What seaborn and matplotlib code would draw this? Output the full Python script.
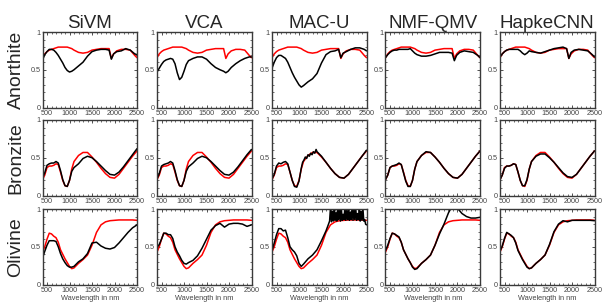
import matplotlib
matplotlib.use("Agg")
import matplotlib.pyplot as plt
import seaborn as sns
from matplotlib.ticker import MultipleLocator, FixedLocator

# column / row names
methods = ["SiVM", "VCA", "MAC-U", "NMF-QMV", "HapkeCNN"]
minerals = ["Anorthite", "Bronzite", "Olivine"]

# ---- Anorthite (red = reference, black = estimate) ----
wl_anor = [400, 450, 500, 550, 600, 650, 700, 750, 800, 850, 900, 950, 1000, 1050, 1100, 1200,
           1300, 1400, 1500, 1600, 1700, 1800, 1880, 1930, 1980, 2050, 2150, 2250, 2350, 2450, 2500]
anor_true = [0.66, 0.71, 0.74, 0.76, 0.77, 0.78, 0.79, 0.80, 0.80, 0.80, 0.80, 0.80, 0.79, 0.78, 0.76, 0.73,
             0.72, 0.73, 0.76, 0.77, 0.78, 0.78, 0.78, 0.65, 0.71, 0.75, 0.77, 0.77, 0.76, 0.69, 0.66]
anor_sivm = [0.63, 0.70, 0.74, 0.77, 0.77, 0.76, 0.73, 0.69, 0.64, 0.59, 0.53, 0.49, 0.47, 0.48, 0.50, 0.55,
             0.60, 0.68, 0.74, 0.76, 0.77, 0.77, 0.76, 0.64, 0.71, 0.74, 0.75, 0.78, 0.76, 0.71, 0.70]
anor_vca = [0.47, 0.52, 0.57, 0.61, 0.63, 0.64, 0.65, 0.64, 0.58, 0.46, 0.37, 0.40, 0.48, 0.57, 0.62, 0.65,
            0.67, 0.67, 0.64, 0.58, 0.53, 0.50, 0.48, 0.46, 0.48, 0.53, 0.58, 0.62, 0.65, 0.67, 0.67]
anor_macu = [0.52, 0.60, 0.66, 0.69, 0.69, 0.67, 0.65, 0.60, 0.53, 0.46, 0.40, 0.35, 0.30, 0.27, 0.29, 0.34,
             0.38, 0.45, 0.59, 0.70, 0.74, 0.75, 0.77, 0.66, 0.72, 0.74, 0.77, 0.79, 0.79, 0.77, 0.75]
anor_nmf = [0.66, 0.70, 0.73, 0.75, 0.76, 0.76, 0.77, 0.77, 0.77, 0.77, 0.77, 0.78, 0.75, 0.72, 0.70, 0.68,
            0.68, 0.69, 0.71, 0.73, 0.73, 0.73, 0.72, 0.62, 0.69, 0.73, 0.75, 0.74, 0.73, 0.69, 0.66]
anor_hapke = [0.67, 0.71, 0.74, 0.76, 0.77, 0.77, 0.77, 0.77, 0.77, 0.75, 0.72, 0.70, 0.72, 0.75, 0.74, 0.73,
              0.72, 0.74, 0.76, 0.78, 0.79, 0.80, 0.78, 0.65, 0.73, 0.76, 0.77, 0.76, 0.75, 0.70, 0.67]

# ---- Bronzite ----
wl_bron = [400, 450, 500, 550, 600, 650, 700, 750, 800, 850, 900, 950, 1000, 1050, 1100, 1200,
           1300, 1400, 1500, 1600, 1700, 1800, 1900, 2000, 2100, 2200, 2300, 2400, 2500]
bron_true = [0.21, 0.27, 0.37, 0.39, 0.39, 0.40, 0.42, 0.41, 0.31, 0.20, 0.13, 0.12, 0.20, 0.35, 0.45, 0.53,
             0.57, 0.57, 0.51, 0.44, 0.36, 0.29, 0.24, 0.23, 0.28, 0.36, 0.44, 0.52, 0.59]
bron_sivm = [0.23, 0.30, 0.40, 0.42, 0.43, 0.43, 0.45, 0.43, 0.33, 0.21, 0.13, 0.12, 0.20, 0.32, 0.37, 0.42,
             0.49, 0.52, 0.50, 0.45, 0.39, 0.33, 0.28, 0.27, 0.31, 0.38, 0.46, 0.54, 0.62]
bron_vca = [0.22, 0.29, 0.39, 0.41, 0.42, 0.43, 0.45, 0.43, 0.33, 0.21, 0.13, 0.12, 0.20, 0.32, 0.38, 0.43,
            0.49, 0.52, 0.50, 0.45, 0.39, 0.33, 0.28, 0.27, 0.31, 0.38, 0.46, 0.54, 0.61]
# MAC-U bronzite is a bit noisy between 1050 and 1400 nm
wl_bron_macu = [400, 450, 500, 550, 600, 650, 700, 750, 800, 850, 900, 950, 1000, 1050, 1080, 1110,
                1140, 1170, 1200, 1230, 1260, 1290, 1320, 1350, 1380, 1400, 1500, 1600, 1700, 1800,
                1900, 2000, 2100, 2200, 2300, 2400, 2500]
bron_macu = [0.22, 0.28, 0.39, 0.43, 0.42, 0.44, 0.45, 0.42, 0.31, 0.20, 0.12, 0.11, 0.19, 0.36, 0.44, 0.47,
             0.51, 0.49, 0.54, 0.52, 0.56, 0.54, 0.58, 0.56, 0.61, 0.58, 0.52, 0.44, 0.36, 0.29,
             0.24, 0.23, 0.28, 0.36, 0.44, 0.52, 0.60]
bron_nmf = [0.21, 0.27, 0.37, 0.39, 0.40, 0.41, 0.43, 0.41, 0.30, 0.19, 0.12, 0.12, 0.20, 0.35, 0.45, 0.53,
            0.58, 0.57, 0.51, 0.44, 0.36, 0.29, 0.24, 0.23, 0.28, 0.36, 0.44, 0.52, 0.59]
bron_hapke = [0.21, 0.27, 0.36, 0.39, 0.39, 0.40, 0.42, 0.41, 0.31, 0.20, 0.13, 0.13, 0.21, 0.35, 0.45, 0.52,
              0.55, 0.55, 0.50, 0.44, 0.37, 0.30, 0.25, 0.24, 0.28, 0.36, 0.44, 0.52, 0.59]

# ---- Olivine ----
wl_oliv = wl_bron
oliv_true = [0.43, 0.50, 0.60, 0.68, 0.67, 0.64, 0.62, 0.56, 0.46, 0.40, 0.34, 0.29, 0.24, 0.21, 0.22, 0.28,
             0.33, 0.39, 0.52, 0.69, 0.79, 0.83, 0.845, 0.85, 0.855, 0.855, 0.855, 0.855, 0.85]
oliv_sivm = [0.35, 0.44, 0.52, 0.58, 0.58, 0.58, 0.57, 0.50, 0.41, 0.34, 0.29, 0.25, 0.23, 0.23, 0.24, 0.30,
             0.34, 0.41, 0.55, 0.56, 0.51, 0.48, 0.47, 0.49, 0.55, 0.62, 0.69, 0.75, 0.79]
oliv_vca = [0.49, 0.53, 0.60, 0.68, 0.68, 0.66, 0.66, 0.61, 0.50, 0.43, 0.38, 0.32, 0.28, 0.27, 0.29, 0.32,
            0.38, 0.48, 0.60, 0.72, 0.78, 0.81, 0.76, 0.80, 0.81, 0.81, 0.80, 0.77, 0.79]
# MAC-U olivine is noisy past 1650 nm, so it has its own finer wavelength list
wl_oliv_macu = [400, 450, 500, 550, 600, 650, 700, 750, 800, 850, 900, 950, 1000, 1050, 1100, 1200,
                1300, 1400, 1500, 1600, 1650, 1680, 1700, 1720, 1740, 1760, 1780, 1800, 1820, 1840,
                1860, 1880, 1900, 1920, 1940, 1960, 1980, 2000, 2020, 2040, 2060, 2080, 2100, 2120,
                2140, 2160, 2180, 2200, 2220, 2240, 2260, 2280, 2300, 2320, 2340, 2360, 2380, 2400,
                2420, 2440, 2460, 2480, 2500]
oliv_macu = [0.45, 0.55, 0.66, 0.74, 0.74, 0.71, 0.72, 0.62, 0.50, 0.46, 0.43, 0.38, 0.28, 0.24, 0.27, 0.34,
             0.39, 0.46, 0.58, 0.71, 0.79, 0.84, 1.02, 0.83, 0.97, 0.84, 1.03, 0.85, 0.95, 0.84,
             1.04, 0.86, 0.99, 0.84, 1.02, 0.85, 0.93, 0.86, 1.03, 0.85, 0.98, 0.86, 1.02, 0.85,
             0.96, 0.86, 1.03, 0.85, 0.99, 0.86, 1.02, 0.85, 0.94, 0.86, 1.03, 0.84, 0.97, 0.85,
             1.01, 0.84, 0.86, 0.80, 0.79]
oliv_nmf = [0.45, 0.52, 0.61, 0.68, 0.67, 0.65, 0.63, 0.56, 0.46, 0.40, 0.34, 0.29, 0.23, 0.20, 0.21, 0.28,
            0.33, 0.39, 0.52, 0.67, 0.80, 0.95, 1.06, 1.01, 0.94, 0.90, 0.88, 0.88, 0.89]
oliv_hapke = [0.44, 0.51, 0.61, 0.69, 0.67, 0.65, 0.62, 0.55, 0.45, 0.39, 0.33, 0.28, 0.23, 0.21, 0.22, 0.28,
              0.33, 0.39, 0.53, 0.70, 0.80, 0.845, 0.83, 0.85, 0.85, 0.85, 0.85, 0.85, 0.845]

# panels: (reference wl, reference, estimate wl, estimate)
panels = [
    [(wl_anor, anor_true, wl_anor, anor_sivm), (wl_anor, anor_true, wl_anor, anor_vca),
     (wl_anor, anor_true, wl_anor, anor_macu), (wl_anor, anor_true, wl_anor, anor_nmf),
     (wl_anor, anor_true, wl_anor, anor_hapke)],
    [(wl_bron, bron_true, wl_bron, bron_sivm), (wl_bron, bron_true, wl_bron, bron_vca),
     (wl_bron, bron_true, wl_bron_macu, bron_macu), (wl_bron, bron_true, wl_bron, bron_nmf),
     (wl_bron, bron_true, wl_bron, bron_hapke)],
    [(wl_oliv, oliv_true, wl_oliv, oliv_sivm), (wl_oliv, oliv_true, wl_oliv, oliv_vca),
     (wl_oliv, oliv_true, wl_oliv_macu, oliv_macu), (wl_oliv, oliv_true, wl_oliv, oliv_nmf),
     (wl_oliv, oliv_true, wl_oliv, oliv_hapke)],
]

sns.set_style("ticks")
plt.rcParams['font.family'] = ['Liberation Sans', 'DejaVu Sans']

W, H = 602, 304
fig = plt.figure(figsize=(W / 100, H / 100), dpi=100)

lefts = [42.5, 157, 272, 385.5, 500]
tops = [32, 120, 209]
aw, ah = 94.5, 75.5

for r in range(3):
    for c in range(5):
        ax = fig.add_axes([lefts[c] / W, 1 - (tops[r] + ah) / H, aw / W, ah / H])
        wl_t, ref, wl_e, est = panels[r][c]
        sns.lineplot(x=wl_t, y=ref, ax=ax, color="#ff0000", linewidth=1.1,
                     estimator=None, sort=False, legend=False)
        sns.lineplot(x=wl_e, y=est, ax=ax, color="black", linewidth=1.1,
                     estimator=None, sort=False, legend=False)
        ax.set_xlim(400, 2500)
        ax.set_ylim(0, 1)
        ax.xaxis.set_major_locator(FixedLocator([500, 1000, 1500, 2000, 2500]))
        ax.xaxis.set_minor_locator(MultipleLocator(100))
        ax.yaxis.set_major_locator(FixedLocator([0, 0.5, 1]))
        ax.yaxis.set_minor_locator(MultipleLocator(0.1))
        ax.set_yticklabels(["0", "0.5", "1"])
        ax.tick_params(which="major", direction="in", length=2.5, width=0.6,
                       top=True, right=True, labelsize=5.2, pad=1.5,
                       labelcolor="#444444", color="#333333")
        ax.tick_params(which="minor", direction="in", length=1.2, width=0.5,
                       top=True, right=True, color="#333333")
        for s in ax.spines.values():
            s.set_visible(True)
            s.set_color("#3a3a3a")
            s.set_linewidth(1.0)
        ax.set_xlabel("")
        ax.set_ylabel("")
        if r == 0:
            ax.set_title(methods[c], fontsize=13.5, pad=3)
        if r == 2:
            ax.set_xlabel("Wavelength in nm", fontsize=5.3, color="#444444", labelpad=1)

for r in range(3):
    yc = 1 - (tops[r] + ah / 2) / H
    fig.text(16 / W, yc, minerals[r], rotation=90, fontsize=14,
             ha="center", va="center")

fig.savefig("out.png", dpi=100)
